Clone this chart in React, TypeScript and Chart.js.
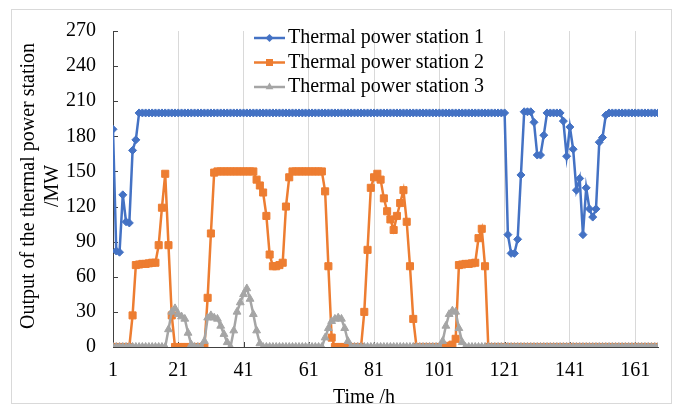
import React, { useEffect, useRef } from 'react';
import { Chart, registerables } from 'chart.js';

Chart.register(...registerables);

// ---- data ----
const hours: number[] = Array.from({ length: 168 }, (_, i) => i + 1);
const xTickValues = [1, 21, 41, 61, 81, 101, 121, 141, 161];
const yTickValues = [0, 30, 60, 90, 120, 150, 180, 210, 240, 270];
const seriesNames = ['Thermal power station 1', 'Thermal power station 2', 'Thermal power station 3'];
const xTitle = 'Time /h';
const yTitleLines = ['Output of the thermal power station', '/MW'];

const station1 = [
  186, 82, 81, 130, 107, 106, 168, 177, 200, 200,
  200, 200, 200, 200, 200, 200, 200, 200, 200, 200,
  200, 200, 200, 200, 200, 200, 200, 200, 200, 200,
  200, 200, 200, 200, 200, 200, 200, 200, 200, 200,
  200, 200, 200, 200, 200, 200, 200, 200, 200, 200,
  200, 200, 200, 200, 200, 200, 200, 200, 200, 200,
  200, 200, 200, 200, 200, 200, 200, 200, 200, 200,
  200, 200, 200, 200, 200, 200, 200, 200, 200, 200,
  200, 200, 200, 200, 200, 200, 200, 200, 200, 200,
  200, 200, 200, 200, 200, 200, 200, 200, 200, 200,
  200, 200, 200, 200, 200, 200, 200, 200, 200, 200,
  200, 200, 200, 200, 200, 200, 200, 200, 200, 200,
  200, 96, 80, 80, 92, 147, 201, 201, 201, 192,
  164, 164, 181, 200, 200, 200, 200, 200, 193, 163,
  188, 169, 134, 144, 96, 136, 118, 111, 118, 175,
  179, 198, 200, 200, 200, 200, 200, 200, 200, 200,
  200, 200, 200, 200, 200, 200, 200, 200,
];

const station2 = [
  0, 0, 0, 0, 0, 0, 27, 70, 70.5, 71,
  71, 71.5, 72, 72, 87, 119, 148, 87, 27, 0,
  0, 0, 0, 0, 0, 0, 0, 0, 0, 42,
  97, 149, 150, 150, 150, 150, 150, 150, 150, 150,
  150, 150, 150, 150, 143, 138, 132, 112, 79, 69,
  69, 70, 72, 120, 145, 150, 150, 150, 150, 150,
  150, 150, 150, 150, 150, 133, 69, 8, 0, 0,
  0, 0, 0, 0, 0, 0, 0, 30, 83, 136,
  145, 148, 143, 127, 116, 109, 100, 112, 123, 134,
  107, 69, 24, 0, 0, 0, 0, 0, 0, 0,
  0, 0, 0, 1, 2, 7, 70, 70.5, 71, 71,
  71.5, 72, 93, 101, 69, 0, 0, 0, 0, 0,
  0, 0, 0, 0, 0, 0, 0, 0, 0, 0,
  0, 0, 0, 0, 0, 0, 0, 0, 0, 0,
  0, 0, 0, 0, 0, 0, 0, 0, 0, 0,
  0, 0, 0, 0, 0, 0, 0, 0, 0, 0,
  0, 0, 0, 0, 0, 0, 0, 0,
];

const station3 = [
  0, 0, 0, 0, 0, 0, 0, 0, 0, 0,
  0, 0, 0, 0, 0, 0, 0, 15, 30, 33,
  28, 26, 24, 12, 2, 0, 0, 0, 5, 25,
  27, 25, 24, 18, 11, 4, 0, 14, 30, 38,
  45, 50, 41, 28, 14, 3, 0, 0, 0, 0,
  0, 0, 0, 0, 0, 0, 0, 0, 0, 0,
  0, 0, 0, 0, 0, 8, 16, 22, 24, 25,
  24, 16, 5, 0, 0, 0, 0, 0, 0, 0,
  0, 0, 0, 0, 0, 0, 0, 0, 0, 0,
  0, 0, 0, 0, 0, 0, 0, 0, 0, 0,
  0, 5, 18, 28, 31, 30, 16, 4, 0, 0,
  0, 0, 0, 0, 0, 0, 0, 0, 0, 0,
  0, 0, 0, 0, 0, 0, 0, 0, 0, 0,
  0, 0, 0, 0, 0, 0, 0, 0, 0, 0,
  0, 0, 0, 0, 0, 0, 0, 0, 0, 0,
  0, 0, 0, 0, 0, 0, 0, 0, 0, 0,
  0, 0, 0, 0, 0, 0, 0, 0,
];

const COLORS = ['#4472C4', '#ED7D31', '#A5A5A5'];
const SHAPES = ['diamond', 'square', 'triangle'];
const FONT_FAMILY = '"Liberation Serif", "Times New Roman", serif';
const AXIS_COLOR = '#404040';
const TEXT_COLOR = '#000000';

function drawMarker(ctx: CanvasRenderingContext2D, shape: string, x: number, y: number) {
  ctx.beginPath();
  if (shape === 'diamond') {
    const r = 4;
    ctx.moveTo(x - r, y); ctx.lineTo(x, y - r); ctx.lineTo(x + r, y); ctx.lineTo(x, y + r);
  } else if (shape === 'square') {
    const s = 3.5;
    ctx.rect(x - s, y - s, 2 * s, 2 * s);
  } else {
    const r = 4.5;
    ctx.moveTo(x, y - r);
    ctx.lineTo(x + r * Math.sin((2 * Math.PI) / 3), y - r * Math.cos((2 * Math.PI) / 3));
    ctx.lineTo(x + r * Math.sin((4 * Math.PI) / 3), y - r * Math.cos((4 * Math.PI) / 3));
  }
  ctx.closePath();
  ctx.fill();
}

const framePlugin = {
  id: 'frame',
  beforeDraw(chart: any) {
    const ctx = chart.ctx as CanvasRenderingContext2D;
    ctx.save();
    ctx.fillStyle = '#ffffff';
    ctx.fillRect(0, 0, chart.width, chart.height);
    ctx.strokeStyle = '#d9d9d9';
    ctx.lineWidth = 1;
    ctx.strokeRect(11.5, 9.5, 660, 394);
    ctx.restore();
  },
  beforeDatasetsDraw(chart: any) {
    const ctx = chart.ctx as CanvasRenderingContext2D;
    const xs = chart.scales.x;
    const ys = chart.scales.y;
    const area = chart.chartArea;
    ctx.save();
    ctx.strokeStyle = AXIS_COLOR;
    ctx.lineWidth = 1;
    ctx.beginPath();
    yTickValues.forEach((v) => {
      const y = Math.round(ys.getPixelForValue(v)) + 0.5;
      ctx.moveTo(area.left, y);
      ctx.lineTo(area.left + 5, y);
    });
    xTickValues.forEach((v) => {
      const x = Math.round(xs.getPixelForValue(v)) + 0.5;
      ctx.moveTo(x, area.bottom);
      ctx.lineTo(x, area.bottom - 5);
    });
    ctx.stroke();
    ctx.restore();
  },
  afterDraw(chart: any) {
    const ctx = chart.ctx as CanvasRenderingContext2D;
    ctx.save();
    ctx.font = `20px ${FONT_FAMILY}`;

    // axis titles
    ctx.fillStyle = TEXT_COLOR;
    ctx.textAlign = 'center';
    ctx.textBaseline = 'alphabetic';
    ctx.fillText(xTitle, 364, 403);

    ctx.save();
    ctx.translate(0, 186);
    ctx.rotate(-Math.PI / 2);
    ctx.textBaseline = 'middle';
    ctx.fillText(yTitleLines[0], 0, 29);
    ctx.fillText(yTitleLines[1], 0, 53);
    ctx.restore();

    // legend
    const lineYs = [38, 62.5, 87];
    seriesNames.forEach((name, i) => {
      const ly = lineYs[i];
      ctx.strokeStyle = COLORS[i];
      ctx.fillStyle = COLORS[i];
      ctx.lineWidth = 2.5;
      ctx.beginPath();
      ctx.moveTo(254, ly);
      ctx.lineTo(285, ly);
      ctx.stroke();
      drawMarker(ctx, SHAPES[i], 269.5, ly);
      ctx.fillStyle = TEXT_COLOR;
      ctx.textBaseline = 'middle';
      ctx.textAlign = 'left';
      ctx.fillText(name, 288, ly);
    });
    ctx.restore();
  },
};

export default function App() {
  const canvasRef = useRef<HTMLCanvasElement>(null);

  useEffect(() => {
    const canvas = canvasRef.current;
    if (!canvas) return;
    const font = { family: FONT_FAMILY, size: 20, lineHeight: 1.2 };
    const chart = new Chart(canvas, {
      type: 'line',
      data: {
        labels: hours,
        datasets: [
          {
            label: seriesNames[0],
            data: station1,
            borderColor: COLORS[0],
            backgroundColor: COLORS[0],
            borderWidth: 2.5,
            pointStyle: 'rectRot',
            pointRadius: 4,
            pointBorderWidth: 1,
            tension: 0,
            order: 2,
          },
          {
            label: seriesNames[1],
            data: station2,
            borderColor: COLORS[1],
            backgroundColor: COLORS[1],
            borderWidth: 2.5,
            pointStyle: 'rect',
            pointRadius: 5,
            pointBorderWidth: 1,
            tension: 0,
            order: 1,
          },
          {
            label: seriesNames[2],
            data: station3,
            borderColor: COLORS[2],
            backgroundColor: COLORS[2],
            borderWidth: 2.5,
            pointStyle: 'triangle',
            pointRadius: 4.5,
            pointBorderWidth: 1,
            tension: 0,
            order: 0,
          },
        ],
      },
      options: {
        animation: false,
        responsive: false,
        maintainAspectRatio: false,
        layout: { padding: { top: 31, right: 23, left: 0, bottom: 0 } },
        plugins: {
          legend: { display: false },
          tooltip: { enabled: false },
        },
        scales: {
          x: {
            type: 'linear',
            min: 1,
            max: 168,
            afterBuildTicks: (s: any) => {
              s.ticks = xTickValues.map((v) => ({ value: v }));
            },
            afterFit: (s: any) => {
              s.height = 60;
            },
            grid: {
              color: (c: any) => (c.tick && c.tick.value === 1 ? 'rgba(0,0,0,0)' : '#d9d9d9'),
              drawTicks: false,
              lineWidth: 1,
            },
            border: { color: AXIS_COLOR, width: 1 },
            ticks: { font, color: TEXT_COLOR, padding: 12, maxRotation: 0, autoSkip: false },
          },
          y: {
            min: 0,
            max: 270,
            afterBuildTicks: (s: any) => {
              s.ticks = yTickValues.map((v) => ({ value: v }));
            },
            afterFit: (s: any) => {
              s.width = 113;
            },
            grid: { drawOnChartArea: false, drawTicks: false },
            border: { color: AXIS_COLOR, width: 1 },
            ticks: { font, color: TEXT_COLOR, padding: 17 },
          },
        },
      },
      plugins: [framePlugin],
    } as any);
    return () => chart.destroy();
  }, []);

  return (
    <div style={{ position: 'absolute', left: 0, top: 0, width: 681, height: 407 }}>
      <canvas ref={canvasRef} width={681} height={407} style={{ width: 681, height: 407, display: 'block' }} />
    </div>
  );
}
